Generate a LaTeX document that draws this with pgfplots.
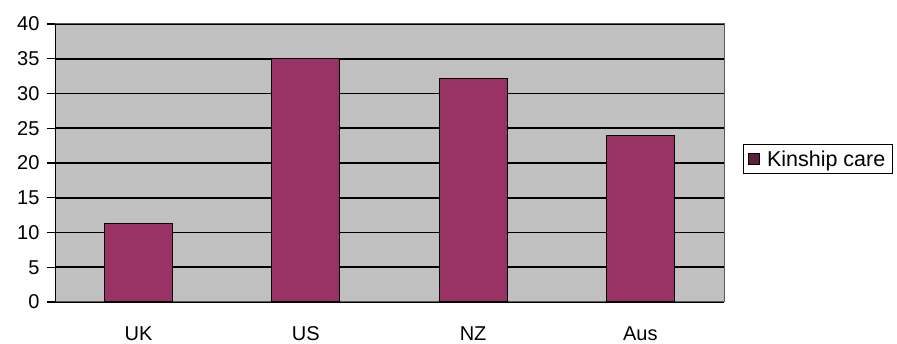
\documentclass[border=0pt]{standalone}
\usepackage{pgfplots}
\pgfplotsset{compat=1.18}
\usepackage{fontspec}
\setmainfont{Liberation Sans}
\definecolor{barplum}{HTML}{993366}
\definecolor{plotbg}{HTML}{C0C0C0}
\begin{document}
\begin{tikzpicture}[x=1pt,y=1pt]
\path[use as bounding box] (0,0) rectangle (897,343);
\begin{axis}[
  at={(55pt,41pt)}, anchor=south west,
  width=669pt, height=278pt, scale only axis,
  xmin=-0.5, xmax=3.5, ymin=0, ymax=40,
  ytick={0,5,...,40},
  xtick=data, xticklabels={UK,US,NZ,Aus},
  ytick pos=left,
  ybar, bar width=68pt,
  axis background/.style={fill=plotbg},
  axis line style={draw=gray!70!black, line width=1pt},
  ymajorgrids, major grid style={black, line width=1.6pt},
  ytick style={black, line width=1.2pt},
  tick align=outside, major tick length=8pt,
  xtick style={draw=none},
  every tick label/.append style={font=\fontsize{20}{22}\selectfont},
  /pgf/number format/assume math mode=true,
  yticklabel style={xshift=-4pt},
  xticklabel style={yshift=-13pt},
  legend style={at={(1.028,0.568)}, anchor=north west, draw=black, line width=1pt,
    fill=white, font=\fontsize{21.5}{23}\selectfont, inner xsep=5pt, inner ysep=4pt,
    /tikz/every odd column/.append style={column sep=5pt}},
  legend image code/.code={\draw[fill=barplum!60!black, draw=black, line width=0.8pt] (0pt,-5.5pt) rectangle (11pt,5.5pt);},
]
\addplot[fill=barplum, draw=black, line width=1.2pt] coordinates {(0,11.3) (1,35) (2,32.2) (3,24)};
\addlegendentry{Kinship care}
\draw[black, line width=1.5pt] (rel axis cs:0,0) -- (rel axis cs:0,1);
\end{axis}
\end{tikzpicture}
\end{document}
